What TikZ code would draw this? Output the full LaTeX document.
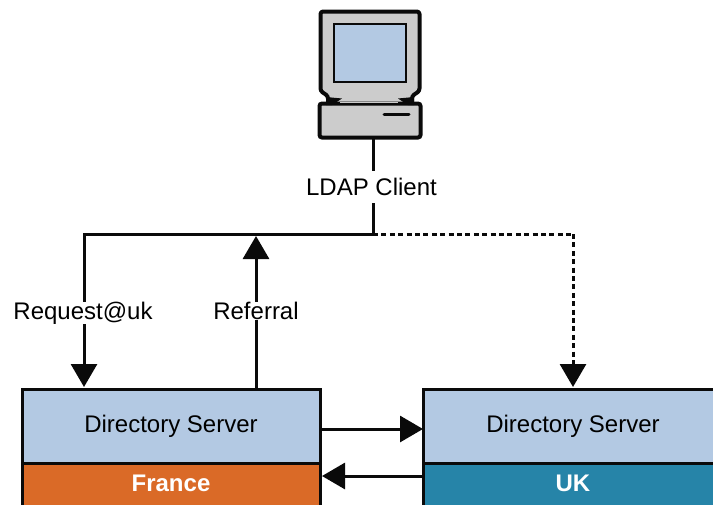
\documentclass[tikz,border=0pt]{standalone}
\usepackage{fontspec}
\setmainfont{Liberation Sans}
\usetikzlibrary{arrows.meta}
\definecolor{srvblue}{HTML}{B3C9E3}
\definecolor{frorange}{HTML}{DA6A27}
\definecolor{ukteal}{HTML}{2684A8}
\definecolor{pcgrey}{HTML}{CCCCCC}
\definecolor{ink}{HTML}{0A0A0A}
\tikzset{
  wire/.style={draw=ink,line width=3pt},
  tip/.style={-{Triangle[length=23pt,width=26pt]}},
  txt/.style={font=\fontsize{24}{28}\selectfont,text=black,inner sep=0pt},
  band/.style={font=\fontsize{24}{28}\selectfont\bfseries,text=white,inner sep=0pt},
  box/.style={draw=ink,line width=3.2pt,inner sep=0pt,anchor=north west},
}
\begin{document}
\begin{tikzpicture}[x=1pt,y=-1pt]
\useasboundingbox (0,0) rectangle (713,504);
\clip (0,0) rectangle (713,504);
% computer
\draw[draw=ink,line width=4pt,fill=pcgrey,line join=round,rounded corners=2.5pt]
  (320.5,11.5) -- (419.5,11.5) -- (419.5,91) -- (412,96) -- (412,104) -- (328,104) -- (328,96) -- (320.5,91) -- cycle;
\node[draw=ink,line width=2.4pt,fill=srvblue,minimum width=72pt,minimum height=58pt,inner sep=0pt,anchor=north west] (screen) at (332.5,22.5) {};
\node[draw=ink,line width=4pt,fill=pcgrey,rounded corners=2.5pt,minimum width=101pt,minimum height=34pt,inner sep=0pt,anchor=north west] (base) at (317.5,101.5) {};
\fill[pcgrey] (340,101.5) rectangle (398,103.4);
\fill[ink] (326,97) -- (342,98.5) -- (332,105) -- (326,105) -- cycle;
\fill[ink] (414,97) -- (398,98.5) -- (408,105) -- (414,105) -- cycle;
\draw[draw=ink,line width=3pt,line cap=round] (384,114) -- (409,114);
% servers
\node[box,fill=srvblue,minimum width=298pt,minimum height=75pt] (ds1) at (20.5,388) {};
\node[box,fill=frorange,minimum width=298pt,minimum height=45pt] (fr) at (20.5,462) {};
\node[box,fill=srvblue,minimum width=298pt,minimum height=75pt] (ds2) at (422,388) {};
\node[box,fill=ukteal,minimum width=298pt,minimum height=45pt] (uk) at (422,462) {};
\node[txt] (t1) at (171,426) {Directory Server};
\node[txt] (t2) at (573,426) {Directory Server};
\node[band] (t3) at (171,483) {France};
\node[band] (t4) at (573,483) {UK};
% labels
\node[txt] (client) at (371.5,187) {LDAP Client};
\node[txt] (req) at (83,313) {Request@uk};
\node[txt] (ref) at (256,311) {Referral};
\coordinate (j) at (373,234);
\coordinate (jl) at (84,234);
\coordinate (jr) at (573,234);
\coordinate (up) at (256,236);
\coordinate (a1) at (321,429);
\coordinate (a2) at (423,429);
\coordinate (b1) at (423,476);
\coordinate (b2) at (322,476);
% connectors
\draw[wire] (373,138) -- (373,171);
\draw[wire,line join=miter] (373,203) -- (j) -- (jl) -- (req.north -| jl);
\draw[wire,tip] (req.south -| jl) -- (84,387);
\draw[wire,dash pattern=on 5pt off 3.4pt] (j) -- (jr);
\draw[wire,dash pattern=on 5pt off 3.4pt,tip] (jr) -- (573,387);
\draw[wire,tip] (ref.north -| up) -- (up);
\draw[wire] (ds1.north -| up) -- (ref.south -| up);
\draw[wire,tip] (a1) -- (a2);
\draw[wire,tip] (b1) -- (b2);
\end{tikzpicture}
\end{document}
